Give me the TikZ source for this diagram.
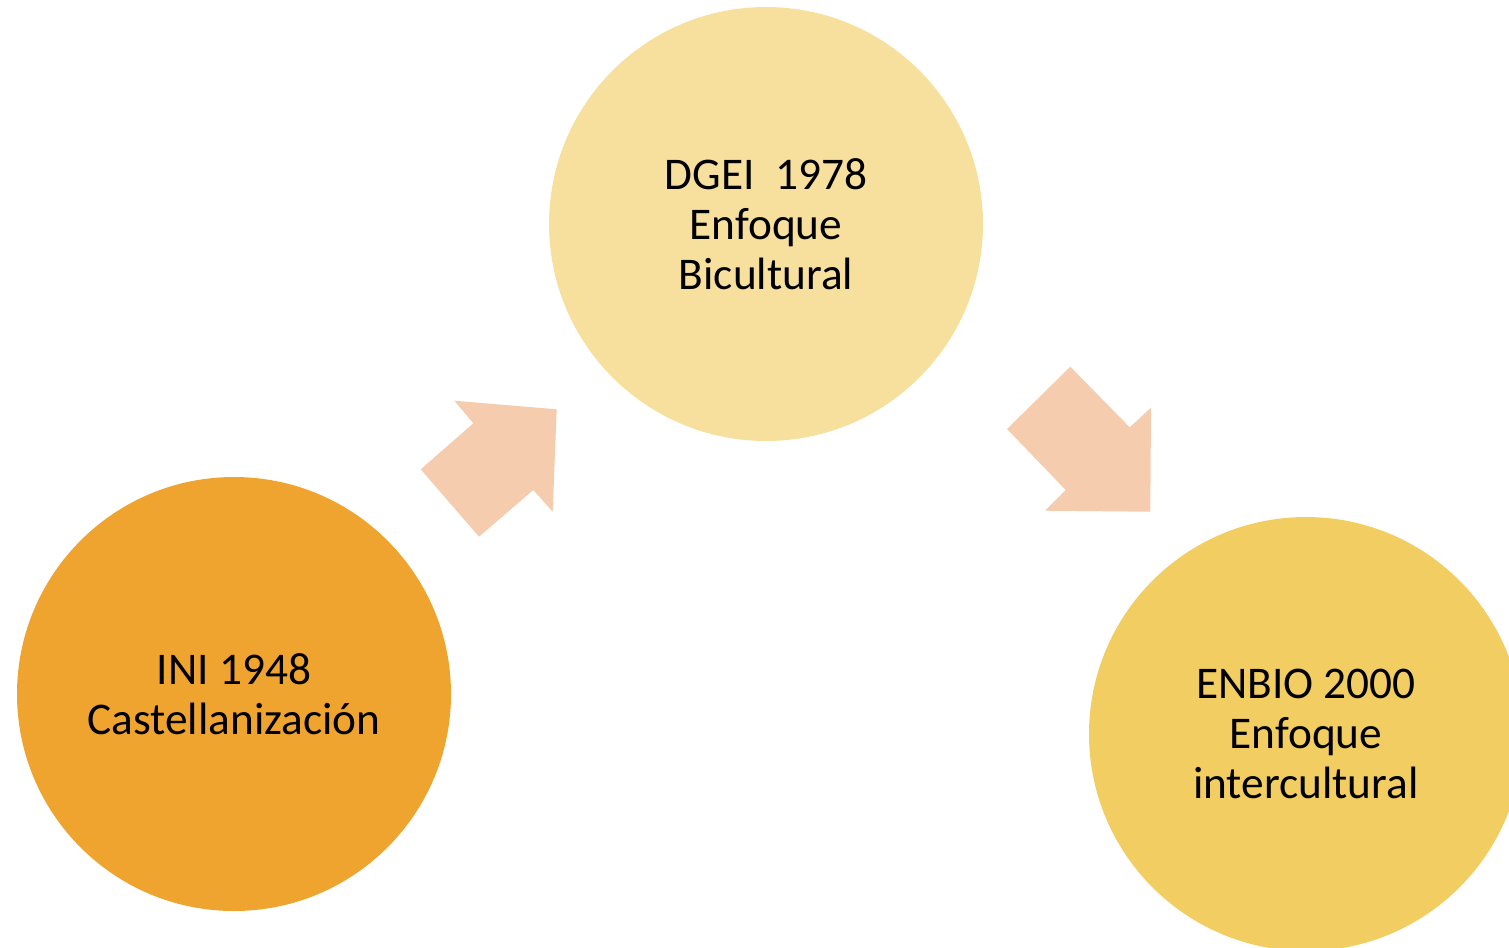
\documentclass[tikz,border=0pt]{standalone}
\usepackage{fontspec}
\setmainfont{Carlito}
\definecolor{iniorange}{RGB}{239,164,48}
\definecolor{dgeisand}{RGB}{247,224,158}
\definecolor{enbiogold}{RGB}{242,205,98}
\definecolor{arrowpeach}{RGB}{245,205,174}
\tikzset{every picture/.style={line width=0.75pt}}
\tikzset{
  stage/.style={circle, inner sep=0pt, minimum size=325.5pt, align=center,
    font=\fontsize{34}{37.5}\selectfont},
  blockarrow/.style={fill=arrowpeach, draw=none}
}

\begin{document}
\begin{tikzpicture}[x=0.75pt,y=0.75pt,yscale=-1,xscale=1]
\useasboundingbox (0,0) rectangle (1509,947);
\clip (0,0) rectangle (1509,947);

%Shape: Circle [id:ini]
\node (ini) [stage, fill=iniorange] at (234,694) {INI 1948\\Castellanización};
%Shape: Circle [id:dgei]
\node (dgei) [stage, fill=dgeisand] at (766,224) {DGEI~~1978\\Enfoque\\Bicultural};
%Shape: Circle [id:enbio]
\node (enbio) [stage, fill=enbiogold] at (1306,734) {ENBIO 2000\\Enfoque\\intercultural};

%Shape: Arrow [id:up]
\fill [blockarrow] (454.3,400.7) -- (556.7,409.3) -- (552.7,511.7) -- (533.3,490) -- (479,536.7) -- (420.7,469.3) -- (473.3,423.3) -- cycle ;
%Shape: Arrow [id:down]
\fill [blockarrow] (1070.3,366.7) -- (1129.7,427.3) -- (1151,407.7) -- (1150.3,511.7) -- (1045,510.7) -- (1065.7,490) -- (1007,429) -- cycle ;

\end{tikzpicture}
\end{document}
